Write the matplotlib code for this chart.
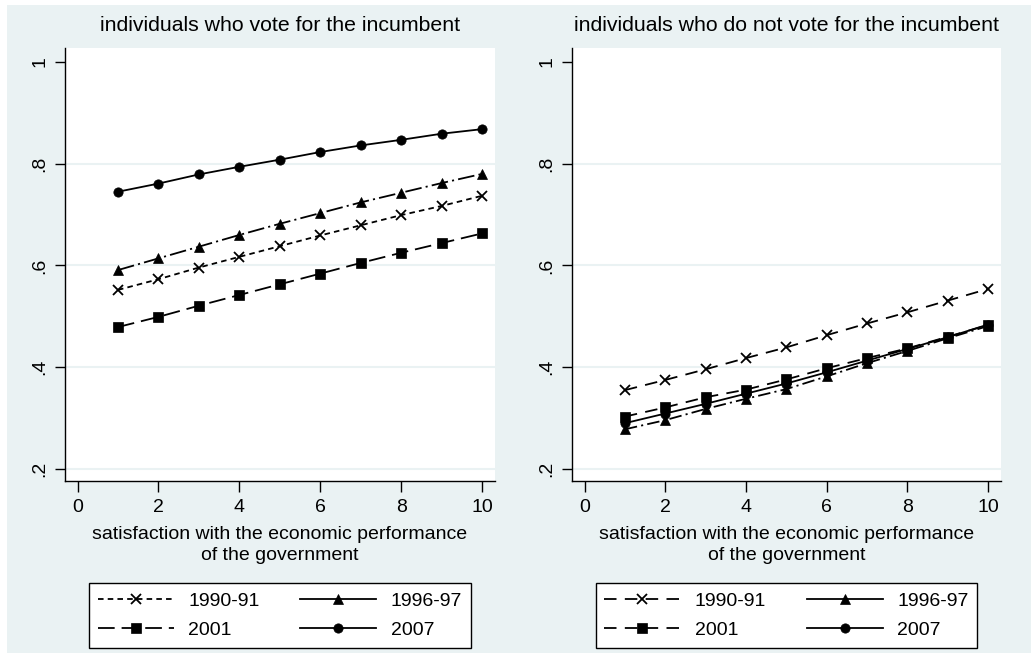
import matplotlib
matplotlib.use('Agg')
import matplotlib.pyplot as plt
from matplotlib.patches import Rectangle

plt.rcParams['font.family'] = ['Liberation Sans', 'DejaVu Sans']
plt.rcParams['lines.scale_dashes'] = False

bgcolor = '#eaf2f3'  # stata s2color graph region

# data (predicted probabilities)
satisfaction = [1, 2, 3, 4, 5, 6, 7, 8, 9, 10]
waves = ['1990-91', '1996-97', '2001', '2007']

vote_1990 = [0.552, 0.573, 0.596, 0.617, 0.638, 0.659, 0.679, 0.699, 0.717, 0.737]
vote_1996 = [0.591, 0.614, 0.637, 0.660, 0.682, 0.703, 0.724, 0.743, 0.762, 0.780]
vote_2001 = [0.479, 0.499, 0.521, 0.542, 0.563, 0.584, 0.605, 0.625, 0.644, 0.663]
vote_2007 = [0.745, 0.761, 0.779, 0.794, 0.808, 0.823, 0.836, 0.847, 0.859, 0.868]

novote_1990 = [0.355, 0.375, 0.396, 0.418, 0.439, 0.463, 0.486, 0.508, 0.531, 0.554]
novote_1996 = [0.278, 0.296, 0.318, 0.338, 0.357, 0.382, 0.408, 0.432, 0.457, 0.481]
novote_2001 = [0.303, 0.321, 0.341, 0.356, 0.376, 0.398, 0.418, 0.437, 0.460, 0.483]
novote_2007 = [0.290, 0.309, 0.328, 0.348, 0.368, 0.390, 0.413, 0.436, 0.459, 0.484]

yticks = [0.2, 0.4, 0.6, 0.8, 1.0]
ytick_labels = ['.2', '.4', '.6', '.8', '1']
xticks = [0, 2, 4, 6, 8, 10]

titles = ['individuals who vote for the incumbent',
          'individuals who do not vote for the incumbent']
xlab = 'satisfaction with the economic performance\nof the government'

W, H = 1031, 653
fig = plt.figure(figsize=(W / 100, H / 100), dpi=100, facecolor='white')
# light blue region (small white strip on top and left in the original)
fig.patches.append(Rectangle((7 / W, 0), 1, 1 - 5 / H, transform=fig.transFigure,
                             facecolor=bgcolor, edgecolor='none', zorder=-10))


def make_axes(x0, x1, y0, y1):
    # pixel box (from top-left) -> figure fraction
    return fig.add_axes([x0 / W, 1 - y1 / H, (x1 - x0) / W, (y1 - y0) / H])


def style_axes(ax, title):
    ax.set_xlim(-0.31, 10.32)
    ax.set_ylim(0.1764, 1.0275)
    for side in ['top', 'right']:
        ax.spines[side].set_visible(False)
    for side in ['left', 'bottom']:
        ax.spines[side].set_linewidth(1.0)
    for v in yticks[:-1]:
        ax.axhline(v, color=bgcolor, lw=1.5, zorder=0)
    ax.set_yticks(yticks)
    ax.set_yticklabels(ytick_labels)
    ax.set_xticks(xticks)
    ax.tick_params(axis='y', labelrotation=90, length=7, width=1, pad=5, labelsize=14)
    ax.tick_params(axis='x', length=8, width=1, pad=5, labelsize=14)
    for lab in ax.get_yticklabels():
        lab.set_va('center')
    ax.set_xlabel(xlab, fontsize=14, labelpad=7, linespacing=1.35)
    ax.set_title(title, fontsize=15.3, pad=12)


def draw_panel(ax, series, styles, title):
    handles = {}
    # 2007 drawn first so the other markers sit on top of it
    order = [3, 0, 1, 2]
    for i in order:
        ls, mk, ms, mew = styles[i]
        l, = ax.plot(satisfaction, series[i], color='black', lw=1.3, linestyle=ls,
                     marker=mk, markersize=ms, markeredgewidth=mew,
                     markerfacecolor='black', markeredgecolor='black', label=waves[i])
        handles[i] = l
    style_axes(ax, title)
    return [handles[i] for i in range(4)]


def add_legend(ax, handles, cx):
    hl = [handles[0], handles[2], handles[1], handles[3]]
    labels = [waves[0], waves[2], waves[1], waves[3]]
    leg = ax.legend(hl, labels, ncol=2, loc='center',
                    bbox_to_anchor=(cx / W, 1 - 615.5 / H), bbox_transform=fig.transFigure,
                    fontsize=14, handlelength=3.9, handletextpad=0.75, columnspacing=2.1,
                    borderpad=0.45, labelspacing=0.6, numpoints=1,
                    fancybox=False, framealpha=1, edgecolor='black')
    leg.get_frame().set_linewidth(1.0)
    # the 1996-97 key looks solid in the original legend
    leg.get_lines()[2].set_linestyle('-')


left_styles = [((0, (4, 3)), 'x', 7, 1.3),
               ((0, (12, 3, 1.5, 3)), '^', 7.2, 0.5),
               ((0, (12, 5)), 's', 6.5, 0.5),
               ('-', 'o', 6.7, 0.5)]
right_styles = [((0, (9, 6)), 'x', 7, 1.3),
                ((0, (9, 3, 1.5, 3)), '^', 7.2, 0.5),
                ((0, (9, 6)), 's', 6.5, 0.5),
                ('-', 'o', 6.7, 0.5)]

ax1 = make_axes(65, 495, 48, 481)
h1 = draw_panel(ax1, [vote_1990, vote_1996, vote_2001, vote_2007], left_styles, titles[0])
add_legend(ax1, h1, 280)

ax2 = make_axes(572, 1001, 48, 481)
h2 = draw_panel(ax2, [novote_1990, novote_1996, novote_2001, novote_2007], right_styles, titles[1])
add_legend(ax2, h2, 786.5)

fig.savefig('out.png', dpi=100, facecolor=fig.get_facecolor())
